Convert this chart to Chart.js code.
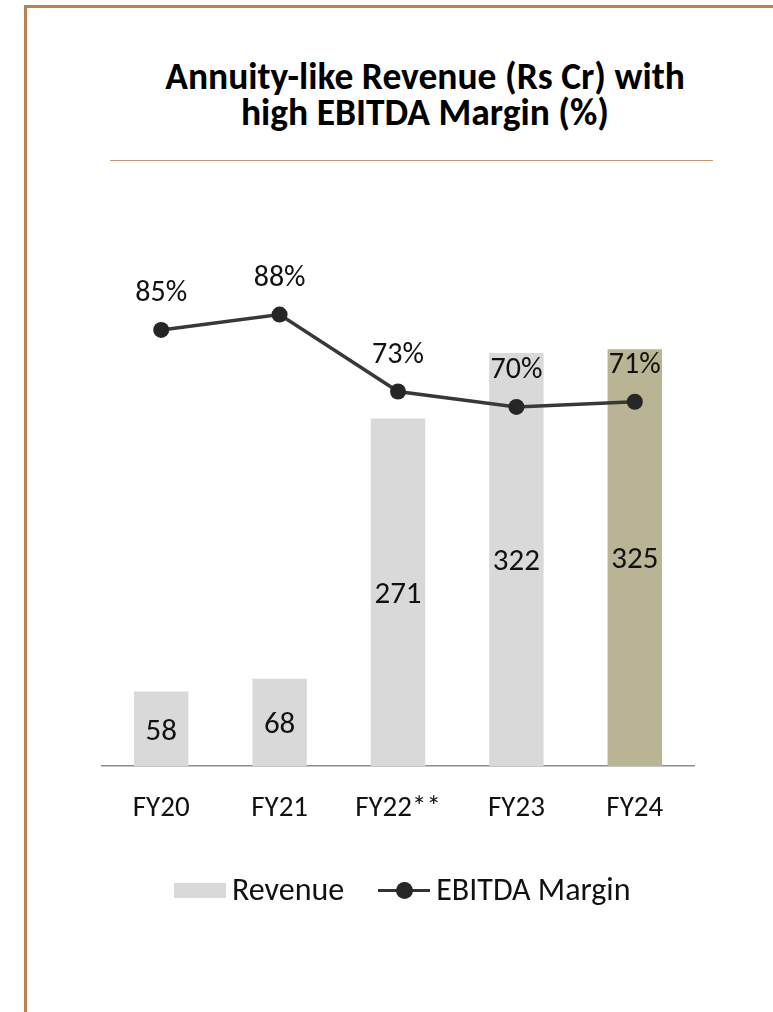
<!DOCTYPE html>
<html>
<head>
<meta charset="utf-8">
<script src="https://cdn.jsdelivr.net/npm/chart.js@4/dist/chart.umd.min.js"></script>
<style>
  body { margin: 0; background: #fff; font-family: Carlito, Calibri, Lato, sans-serif; }
  #page { position: relative; width: 773px; height: 1012px; overflow: hidden; }
  #frame { position: absolute; left: 24px; top: 5px; width: 760px; height: 1020px;
           border-left: 3px solid #b9824f; border-top: 3px solid #b9824f; }
  #title { position: absolute; left: 80px; width: 690px; top: 58px; text-align: center;
           font-weight: bold; font-size: 37.5px; line-height: 36px; color: #000; }
  #rule { position: absolute; left: 110px; width: 603px; top: 160px; height: 1px; background: #c49a6c; }
  #chart { position: absolute; left: 0; top: 0; }
  #legend { position: absolute; left: 174px; top: 872px; height: 36px; display: flex; align-items: center;
            font-size: 32px; line-height: 36px; color: #111; white-space: nowrap; }
  .box { width: 52px; height: 15px; background: #d9d9d9; margin-right: 6px; }
  .mark { position: relative; width: 52px; height: 17px; margin: 0 6px 0 34px; }
  .mark .ln { position: absolute; left: 0; right: 0; top: 7px; height: 3px; background: #333; }
  .mark .dot { position: absolute; left: 18px; top: 0; width: 17px; height: 17px; border-radius: 50%; background: #262626; }
</style>
</head>
<body>
<div id="page">
  <div id="frame"></div>
  <div id="title">Annuity-like Revenue (Rs Cr) with<br>high EBITDA Margin (%)</div>
  <div id="rule"></div>
  <canvas id="chart" width="773" height="1012"></canvas>
  <div id="legend">
    <div class="box"></div><span>Revenue</span>
    <div class="mark"><div class="ln"></div><div class="dot"></div></div><span>EBITDA Margin</span>
  </div>
</div>
<script>
const years = ['FY20', 'FY21', 'FY22**', 'FY23', 'FY24'];
const revenue = [58, 68, 271, 322, 325];
const ebitdaMargin = [85, 88, 73, 70, 71];
const barColors = ['#d9d9d9', '#d9d9d9', '#d9d9d9', '#d9d9d9', '#b8b494'];

const fontFamily = 'Carlito, Calibri, Lato, sans-serif';

// draws the numbers on bars and above the line points
const valueLabels = {
    id: 'valueLabels',
    afterDatasetsDraw(chart) {
        const ctx = chart.ctx;
        ctx.save();
        ctx.textAlign = 'center';
        ctx.textBaseline = 'middle';
        ctx.fillStyle = '#111';
        chart.data.datasets.forEach((ds, i) => {
            const meta = chart.getDatasetMeta(i);
            meta.data.forEach((el, j) => {
                if (ds.type === 'bar') {
                    ctx.font = '31px ' + fontFamily;
                    ctx.fillText(ds.data[j], el.x, (el.y + el.base) / 2 + 3);
                } else {
                    ctx.font = '30px ' + fontFamily;
                    ctx.fillText(ds.data[j] + '%', el.x, el.y - 36);
                }
            });
        });
        ctx.restore();
    }
};

new Chart(document.getElementById('chart'), {
    data: {
        labels: years,
        datasets: [
            {
                type: 'line',
                label: 'EBITDA Margin',
                data: ebitdaMargin,
                yAxisID: 'y1',
                borderColor: '#383838',
                borderWidth: 3.5,
                pointRadius: 8,
                pointBackgroundColor: '#262626',
                pointBorderColor: '#262626',
                pointBorderWidth: 0,
                tension: 0,
                order: 0
            },
            {
                type: 'bar',
                label: 'Revenue',
                data: revenue,
                yAxisID: 'y',
                backgroundColor: barColors,
                barPercentage: 0.46,
                categoryPercentage: 1,
                order: 1
            }
        ]
    },
    options: {
        responsive: false,
        animation: false,
        layout: { padding: { left: 102, right: 79, top: 253, bottom: 186 } },
        plugins: { legend: { display: false }, tooltip: { enabled: false } },
        scales: {
            x: {
                grid: { display: false, drawTicks: false, tickLength: 0 },
                border: { display: true, color: '#8c8c8c', width: 1.5 },
                ticks: { color: '#111', font: { size: 29, family: fontFamily }, padding: 25, maxRotation: 0 },
                afterFit: (scale) => { scale.height = 60; }
            },
            y: { display: false, min: 0, max: 400 },
            y1: { display: false, min: 0, max: 100, position: 'right' }
        }
    },
    plugins: [valueLabels]
});
</script>
</body>
</html>
